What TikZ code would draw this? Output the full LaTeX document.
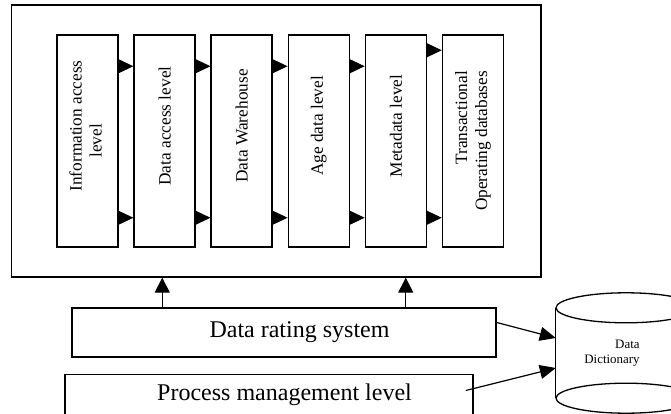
\documentclass[tikz,border=0pt]{standalone}
\usepackage{fontspec}
\setmainfont{Liberation Serif}
\usetikzlibrary{arrows.meta,positioning}

\begin{document}
\begin{tikzpicture}[x=1pt, y=-1pt, ->, >={Triangle[length=15pt,width=14pt]}, node distance=14.6pt,
	tier/.style={rectangle, draw, line width=1.5pt, minimum width=61pt, minimum height=212pt, inner sep=0pt, font=\fontsize{17.3}{20}\selectfont, text depth=30pt},
	wide/.style={rectangle, draw, line width=1.5pt, inner sep=0pt, font=\fontsize{24}{28}\selectfont, execute at begin node=\hspace*{31pt}},
	link/.style={line width=1.2pt, >={Triangle[length=16pt,width=14pt]}}]

		\useasboundingbox (0,0) rectangle (671,414);

		\node[draw, line width=1.3pt, minimum width=529.5pt, minimum height=272pt] (outer) at (276.25,141) {};

		\node[tier] (b1) at (87.5,141) {\rotatebox{90}{\begin{tabular}{@{}c@{}}Information access\\level\hspace*{30pt}\end{tabular}}};
		\node[tier] (b2) [right=of b1] {\rotatebox{90}{Data access level}};
		\node[tier] (b3) [right=of b2] {\rotatebox{90}{Data Warehouse}};
		\node[tier] (b4) [right=of b3] {\rotatebox{90}{Age data level}};
		\node[tier] (b5) [right=of b4] {\rotatebox{90}{Metadata level}};
		\node[tier, text depth=0pt] (b6) [right=of b5] {\rotatebox{90}{\begin{tabular}{@{}r@{}}Transactional\\Operating databases\end{tabular}}};

		\node[wide, minimum width=424pt, minimum height=49pt] (rate) at (284,332.5) {Data rating system};
		\node[wide, minimum width=408pt, minimum height=40pt] (proc) [below=16pt of rate, xshift=-15pt] {Process management level};

		\node[minimum width=140pt, minimum height=90pt, inner sep=0pt, font=\fontsize{12.9}{15}\selectfont] (dict) at (626,353) {\raisebox{-7pt}{\begin{tabular}{@{}r@{\hspace{28pt}}}Data\\Dictionary\end{tabular}}};
		\draw[-, line width=1.3pt] (dict.north west) -- (dict.south west);
		\draw[-, line width=1.3pt] (dict.north east) -- (dict.south east);
		\draw[-, line width=1.3pt] (dict.north) ellipse [x radius=70, y radius=15];
		\draw[-, line width=1.3pt] (dict.south) ellipse [x radius=70, y radius=15];

		\foreach \a/\b in {b1/b2, b2/b3, b3/b4, b4/b5}
			\draw[line width=1pt] ([yshift=-32pt]\a.north east) -- ([yshift=-32pt]\b.north west);
		\draw[line width=1pt] ([yshift=-16pt]b5.north east) -- ([yshift=-16pt]b6.north west);
		\foreach \a/\b in {b1/b2, b2/b3, b3/b4, b4/b5, b5/b6}
			\draw[line width=1pt] ([yshift=30pt]\a.south east) -- ([yshift=30pt]\b.south west);

		\coordinate (upL) at ([xshift=91pt]rate.north west);
		\coordinate (upR) at ([xshift=-91pt]rate.north east);
		\draw[line width=1.2pt, >={Triangle[length=15pt,width=15pt]}] (upL) -- (upL |- outer.south);
		\draw[line width=1.2pt, >={Triangle[length=15pt,width=15pt]}] (upR) -- (upR |- outer.south);

		\draw[link] ([yshift=10pt]rate.east) -- ([yshift=15pt]dict.west);
		\draw[link] ([xshift=-8pt,yshift=4pt]proc.east) -- ([yshift=-15pt]dict.west);

\end{tikzpicture}
\end{document}
